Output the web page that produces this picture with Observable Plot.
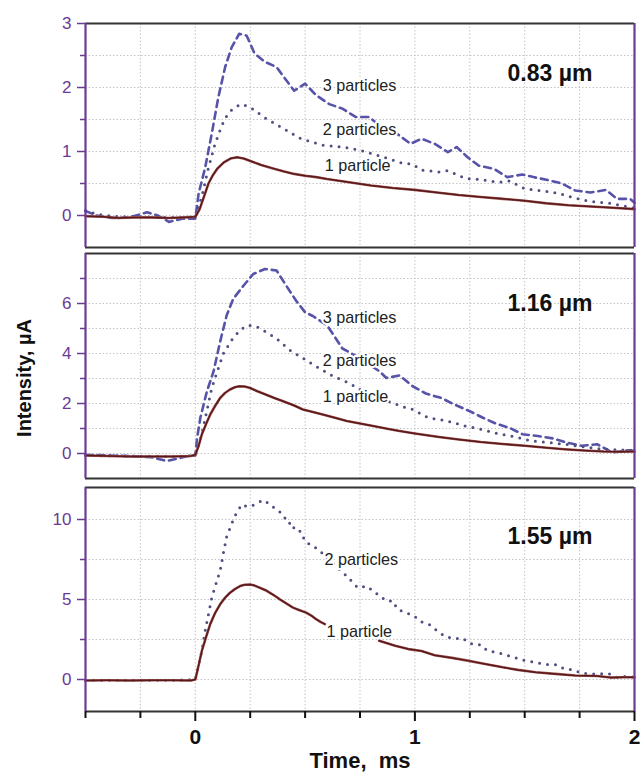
<!DOCTYPE html>
<html>
<head>
<meta charset="utf-8">
<script src="https://cdn.jsdelivr.net/npm/d3@7"></script>
<script src="https://cdn.jsdelivr.net/npm/@observablehq/plot@0.6"></script>
<style>
  html, body { margin: 0; padding: 0; background: #fff; }
  #chart { position: relative; width: 641px; height: 777px; background: #fff; }
  #chart svg { position: absolute; left: 0; white-space: pre; }
</style>
</head>
<body>
<div id="chart"></div>
<script>
// ---------- data (time in ms, intensity in µA) ----------
const sizes = ["0.83 µm", "1.16 µm", "1.55 µm"];
const seriesNames = ["1 particle", "2 particles", "3 particles"];

// Panel 1: 0.83 µm
const p1One = [[-0.5,-0.01],[-0.42,-0.02],[-0.35,-0.04],[-0.28,-0.03],[-0.2,-0.03],[-0.12,-0.04],[-0.05,-0.03],[0,-0.02],[0.02,0.1],[0.04,0.3],[0.06,0.5],[0.08,0.63],[0.1,0.73],[0.13,0.83],[0.16,0.89],[0.19,0.91],[0.22,0.89],[0.26,0.84],[0.3,0.79],[0.35,0.74],[0.4,0.69],[0.45,0.65],[0.5,0.62],[0.55,0.6],[0.6,0.57],[0.7,0.52],[0.8,0.47],[0.9,0.43],[1.0,0.4],[1.1,0.36],[1.2,0.32],[1.3,0.29],[1.4,0.26],[1.5,0.23],[1.6,0.19],[1.7,0.16],[1.8,0.14],[1.9,0.12],[2.0,0.1]];
const p1Two = [[-0.5,0.08],[-0.45,0.02],[-0.35,-0.02],[-0.25,-0.02],[-0.15,-0.03],[-0.05,-0.03],[0,-0.02],[0.03,0.3],[0.06,0.75],[0.09,1.12],[0.12,1.4],[0.14,1.54],[0.17,1.67],[0.21,1.74],[0.25,1.69],[0.32,1.52],[0.4,1.36],[0.48,1.2],[0.58,1.1],[0.67,1.07],[0.75,1.02],[0.85,0.92],[0.94,0.82],[0.99,0.8],[1.03,0.71],[1.11,0.68],[1.15,0.7],[1.23,0.58],[1.3,0.56],[1.38,0.52],[1.43,0.54],[1.5,0.42],[1.57,0.39],[1.65,0.35],[1.73,0.27],[1.8,0.22],[1.89,0.19],[1.98,0.13],[2.0,0.12]];
const p1Three = [[-0.5,0.07],[-0.45,0.0],[-0.38,-0.04],[-0.3,-0.03],[-0.22,0.05],[-0.17,0.0],[-0.12,-0.1],[-0.06,-0.05],[0,-0.05],[0.015,0.34],[0.045,0.75],[0.075,1.28],[0.105,1.85],[0.136,2.32],[0.166,2.63],[0.2,2.84],[0.234,2.81],[0.27,2.53],[0.317,2.4],[0.37,2.32],[0.415,2.11],[0.45,1.95],[0.5,2.06],[0.55,1.88],[0.61,1.74],[0.67,1.67],[0.73,1.54],[0.79,1.54],[0.85,1.38],[0.91,1.3],[0.98,1.12],[1.03,1.2],[1.09,1.12],[1.15,0.99],[1.19,1.07],[1.24,0.91],[1.29,0.78],[1.36,0.73],[1.42,0.6],[1.49,0.64],[1.54,0.6],[1.61,0.55],[1.67,0.5],[1.73,0.39],[1.8,0.36],[1.87,0.4],[1.92,0.26],[1.98,0.26],[2.0,0.2]];

// Panel 2: 1.16 µm
const p2One = [[-0.5,-0.08],[-0.4,-0.1],[-0.3,-0.12],[-0.2,-0.12],[-0.1,-0.12],[-0.02,-0.1],[0,-0.05],[0.015,0.3],[0.03,0.77],[0.05,1.2],[0.068,1.56],[0.09,1.9],[0.113,2.22],[0.135,2.42],[0.158,2.56],[0.18,2.65],[0.2,2.69],[0.225,2.68],[0.25,2.62],[0.28,2.5],[0.32,2.36],[0.36,2.22],[0.4,2.09],[0.45,1.92],[0.49,1.76],[0.54,1.65],[0.58,1.56],[0.64,1.42],[0.69,1.3],[0.75,1.2],[0.81,1.1],[0.88,0.98],[0.93,0.9],[1.0,0.8],[1.11,0.66],[1.2,0.56],[1.3,0.46],[1.4,0.38],[1.5,0.31],[1.6,0.23],[1.68,0.17],[1.77,0.12],[1.86,0.08],[1.93,0.07],[2.0,0.08]];
const p2Two = [[-0.5,-0.08],[-0.3,-0.1],[-0.1,-0.12],[0,-0.08],[0.03,0.8],[0.05,1.6],[0.075,2.62],[0.1,3.28],[0.128,4.0],[0.166,4.54],[0.204,4.94],[0.24,5.13],[0.28,5.07],[0.32,4.87],[0.37,4.6],[0.43,4.14],[0.49,3.81],[0.55,3.48],[0.63,3.08],[0.7,2.82],[0.79,2.36],[0.9,2.02],[0.96,1.83],[0.99,1.76],[1.06,1.43],[1.14,1.32],[1.23,1.1],[1.3,0.97],[1.38,0.79],[1.46,0.66],[1.53,0.5],[1.61,0.44],[1.68,0.37],[1.77,0.27],[1.86,0.17],[1.97,0.13],[2.0,0.12]];
const p2Three = [[-0.5,-0.05],[-0.4,-0.08],[-0.3,-0.1],[-0.2,-0.15],[-0.13,-0.3],[-0.08,-0.2],[-0.03,-0.1],[0,-0.08],[0.008,0.6],[0.023,1.43],[0.053,2.49],[0.083,3.28],[0.113,4.47],[0.143,5.53],[0.173,6.19],[0.22,6.72],[0.264,7.18],[0.317,7.38],[0.37,7.32],[0.415,6.7],[0.46,6.1],[0.5,5.65],[0.535,5.5],[0.6,5.13],[0.67,4.2],[0.75,3.81],[0.84,3.28],[0.87,3.02],[0.93,3.12],[0.99,2.69],[1.05,2.4],[1.12,2.22],[1.18,1.96],[1.25,1.69],[1.31,1.43],[1.37,1.19],[1.43,1.03],[1.49,0.77],[1.56,0.7],[1.63,0.6],[1.69,0.44],[1.76,0.31],[1.83,0.37],[1.9,0.04],[1.97,0.13],[2.0,0.1]];

// Panel 3: 1.55 µm (1-particle trace is interrupted by its label)
const p3One = [[-0.5,-0.06],[-0.4,-0.05],[-0.3,-0.06],[-0.2,-0.05],[-0.1,-0.05],[-0.02,-0.06],[0,0.0],[0.008,0.45],[0.03,1.8],[0.05,2.7],[0.068,3.46],[0.09,4.15],[0.113,4.7],[0.135,5.1],[0.158,5.42],[0.18,5.65],[0.204,5.84],[0.225,5.92],[0.25,5.94],[0.27,5.87],[0.294,5.73],[0.32,5.58],[0.34,5.42],[0.36,5.25],[0.385,5.01],[0.415,4.75],[0.445,4.49],[0.475,4.33],[0.505,4.18],[0.53,3.98],[0.55,3.77],[0.57,3.6],[0.59,3.46],[0.7,null],[0.837,2.42],[0.87,2.28],[0.91,2.11],[0.97,1.9],[1.03,1.78],[1.09,1.52],[1.17,1.35],[1.24,1.18],[1.32,0.97],[1.4,0.76],[1.47,0.6],[1.55,0.45],[1.64,0.35],[1.73,0.25],[1.83,0.22],[1.89,0.12],[1.95,0.14],[2.0,0.14]];
const p3Two = [[-0.5,-0.05],[-0.3,-0.05],[-0.1,-0.05],[0,0],[0.03,1.8],[0.045,3.04],[0.06,4.08],[0.075,5.11],[0.1,6.25],[0.113,6.77],[0.128,7.91],[0.143,8.94],[0.158,9.46],[0.173,9.98],[0.19,10.5],[0.214,10.95],[0.234,10.8],[0.26,10.87],[0.28,11.01],[0.31,11.22],[0.34,10.95],[0.37,10.6],[0.4,10.33],[0.42,9.77],[0.445,9.77],[0.45,9.36],[0.48,9.25],[0.5,8.63],[0.53,8.38],[0.56,8.12],[0.69,6.46],[0.74,5.73],[0.78,5.84],[0.84,5.22],[0.87,4.91],[0.9,4.91],[0.92,4.39],[0.965,4.15],[0.995,3.98],[1.03,3.6],[1.07,3.4],[1.105,3.0],[1.14,2.67],[1.18,2.57],[1.22,2.57],[1.24,2.32],[1.27,2.17],[1.3,2.17],[1.33,1.8],[1.37,1.7],[1.41,1.55],[1.45,1.39],[1.49,1.22],[1.53,1.12],[1.57,1.01],[1.61,0.93],[1.65,0.91],[1.68,0.66],[1.72,0.6],[1.76,0.39],[1.8,0.35],[1.84,0.35],[1.88,0.39],[1.92,0.14],[1.95,0.19],[2.0,0.15]];

// axis ticks
const xDomain = [-0.5, 2];
const xMajor = [0, 1, 2];
const xMinor = [-0.5, -0.25, 0.25, 0.5, 0.75, 1.25, 1.5, 1.75];
const xGrid = [-0.25, 0, 0.25, 0.5, 0.75, 1, 1.25, 1.5, 1.75];
const yDomains = [[-0.5, 3], [-1, 8], [-2, 12]];
const yMajors = [[0, 1, 2, 3], [0, 2, 4, 6], [0, 5, 10]];
const yMinors = [[0.5, 1.5, 2.5], [1, 3, 5, 7], [2.5, 7.5]];
const yGrids = [[0, 0.5, 1, 1.5, 2, 2.5], [0, 1, 2, 3, 4, 5, 6, 7], [0, 2.5, 5, 7.5, 10]];

// label positions (in data units)
const sizeLabelPos = [[1.615, 2.22], [1.615, 5.98], [1.615, 8.94]];
const seriesLabelPos = [
  [[0.59, 0.77], [0.58, 1.34], [0.58, 2.02]],
  [[0.58, 2.26], [0.58, 3.7], [0.58, 5.42]],
  [[0.597, 3.0], [0.588, 7.45], null]
];

// ---------- drawing ----------
const purple = "#6b3a93";
const font = "'Liberation Sans', Arial, sans-serif";
const fmt = d => String(d);

const panels = [
  {one: p1One, two: p1Two, three: p1Three, top: 0, height: 250, mt: 23, mb: 3},
  {one: p2One, two: p2Two, three: p2Three, top: 250, height: 230, mt: 3, mb: 2},
  {one: p3One, two: p3Two, three: null, top: 480, height: 297, mt: 7, mb: 66}
];

const chart = document.getElementById("chart");

panels.forEach((p, i) => {
  const yd = yDomains[i];
  const marks = [
    Plot.ruleY(yGrids[i], {stroke: "#c4c4c4", strokeWidth: 1, strokeDasharray: "1.5,2"}),
    Plot.ruleX(xGrid, {stroke: "#c4c4c4", strokeWidth: 1, strokeDasharray: "1.5,2"}),
    Plot.axisY(yMajors[i], {anchor: "left", tickSize: 8, tickPadding: 6, tickFormat: fmt, color: purple, fontSize: 17, strokeWidth: 1.5, label: null}),
    Plot.axisY(yMinors[i], {anchor: "left", tickSize: 5, tickFormat: () => "", color: purple, strokeWidth: 1.5, label: null})
  ];
  if (p.three) {
    marks.push(Plot.line(p.three, {x: d => d[0], y: d => d[1], stroke: "#5753a8", strokeWidth: 2.6, strokeDasharray: "7,5"}));
  }
  marks.push(Plot.line(p.two, {x: d => d[0], y: d => d[1], stroke: "#4f4f82", strokeWidth: 3, strokeDasharray: "0,8", strokeLinecap: "round"}));
  marks.push(Plot.line(p.one, {x: d => d[0], y: d => d[1], stroke: "#a05a5a", strokeWidth: 2.6}));
  marks.push(Plot.line(p.one, {x: d => d[0], y: d => d[1], stroke: "#5a1818", strokeWidth: 1.5}));

  // series labels
  seriesLabelPos[i].forEach((pos, k) => {
    if (!pos) return;
    marks.push(Plot.text([seriesNames[k]], {x: pos[0], y: pos[1], text: d => d, textAnchor: "start", fontSize: 16.2, fill: "#222", stroke: "white", strokeWidth: 4}));
  });
  // size label
  marks.push(Plot.text([sizes[i]], {x: sizeLabelPos[i][0], y: sizeLabelPos[i][1], text: d => d, fontSize: 23, fontWeight: "bold", fill: "#111"}));

  // frame: top/bottom dark, left/right purple
  marks.push(Plot.ruleY([yd[0], yd[1]], {stroke: "#333", strokeWidth: 2.2}));
  marks.push(Plot.ruleX([xDomain[0], xDomain[1]], {stroke: purple, strokeWidth: 2.2}));

  if (i === 1) {
    marks.push(Plot.text(["Intensity, µA"], {frameAnchor: "left", textAnchor: "middle", text: d => d, rotate: -90, dx: -61, dy: 12, fontSize: 20, fontWeight: "bold", fill: "#111"}));
  }
  if (i === 2) {
    marks.push(Plot.axisX(xMajor, {anchor: "bottom", tickSize: 10, tickPadding: 8, tickFormat: fmt, fontSize: 21, fontWeight: "bold", color: "#111", strokeWidth: 2, label: null}));
    marks.push(Plot.axisX(xMinor, {anchor: "bottom", tickSize: 7, tickFormat: () => "", color: "#111", strokeWidth: 2, label: null}));
    marks.push(Plot.text(["Time,  ms"], {frameAnchor: "bottom", text: d => d, dy: 56, fontSize: 22, fontWeight: "bold", fill: "#111"}));
  }

  const svg = Plot.plot({
    width: 641,
    height: p.height,
    marginLeft: 85,
    marginRight: 7,
    marginTop: p.mt,
    marginBottom: p.mb,
    x: {domain: xDomain, axis: i === 2 ? undefined : null},
    y: {domain: yd},
    style: {fontFamily: font, background: "transparent", overflow: "visible"},
    marks
  });
  svg.style.top = p.top + "px";
  chart.appendChild(svg);
});
</script>
</body>
</html>
